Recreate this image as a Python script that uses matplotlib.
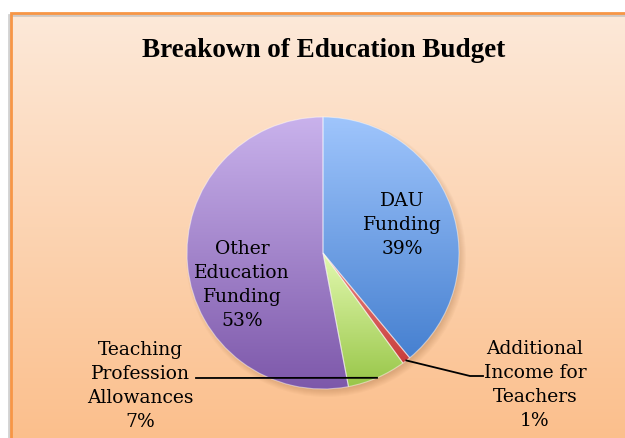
import numpy as np
import matplotlib
matplotlib.use('Agg')
import matplotlib.pyplot as plt
from matplotlib.colors import LinearSegmentedColormap
from matplotlib.patches import Rectangle, Circle

# budget shares (percent)
labels = ['DAU\nFunding', 'Additional\nIncome for\nTeachers',
          'Teaching\nProfession\nAllowances', 'Other\nEducation\nFunding']
shares = [39, 1, 7, 53]
# light (top) -> dark (bottom) fill for each slice
tops = ['#9fc5fc', '#ec8a86', '#e3f9b0', '#c9b2ec']
bottoms = ['#4680d0', '#c83c3a', '#98c648', '#7d58aa']

W, H = 625, 439
fig = plt.figure(figsize=(W / 100, H / 100), dpi=100)
ax = fig.add_axes([0, 0, 1, 1])
ax.set_xlim(0, W)
ax.set_ylim(0, H)
ax.set_aspect('equal')
ax.axis('off')

# chart area: white page, peach gradient panel with orange border
fig.patch.set_facecolor('white')
x0, y_top = 11, H - 14
bg = LinearSegmentedColormap.from_list('bg', ['#fbbf8c', '#fde9d9'])
grad = np.linspace(0, 1, 256).reshape(-1, 1)
ax.imshow(grad, cmap=bg, origin='lower', extent=(x0, W + 2, -2, y_top),
          aspect='auto', zorder=0)
ax.add_patch(Rectangle((x0 - 2.5, -4), W, y_top + 2, fill=False,
                       ec='#b4b4b4', lw=2, alpha=0.6, zorder=1))
ax.add_patch(Rectangle((x0, -4), W, y_top + 4, fill=False,
                       ec='#f79646', lw=2, zorder=1))

ax.text(324, H - 50, 'Breakown of Education Budget', ha='center', va='center',
        fontsize=19.5, fontweight='bold', family='Liberation Serif', zorder=5)

cx, cy, r = 323, H - 254, 136

# soft drop shadow below the pie
for k in range(8):
    ax.add_patch(Circle((cx + 3, cy - 4), r + 4 - k, fc='#8a5a30',
                        ec='none', alpha=0.035, zorder=1.5))

wedges, _ = ax.pie(shares, center=(cx, cy), radius=r, startangle=90,
                   counterclock=False, frame=True,
                   wedgeprops=dict(fc='none', ec=(1, 1, 1, 0.45), lw=0.8))
ax.set_xlim(0, W)
ax.set_ylim(0, H)
ax.axis('off')

for w, c1, c2 in zip(wedges, tops, bottoms):
    w.set_zorder(3)
    bb = w.get_path().get_extents()
    cm = LinearSegmentedColormap.from_list('s', [c2, c1])
    im = ax.imshow(grad, cmap=cm, origin='lower', aspect='auto',
                   extent=(bb.x0, bb.x1, bb.y0, bb.y1), zorder=2)
    im.set_clip_path(w)


def rim(w):
    a = np.deg2rad((w.theta1 + w.theta2) / 2)
    return cx + r * np.cos(a), cy + r * np.sin(a)


txt = dict(ha='center', va='center', fontsize=13.5, family='DejaVu Serif',
           linespacing=1.45, zorder=5)
pct = ['%d%%' % s for s in shares]

# inside labels
ax.text(402, H - 225, labels[0] + '\n' + pct[0], **txt)
ax.text(242, H - 285, labels[3] + '\n' + pct[3], **txt)

# outside labels with leader lines
ax.text(535, H - 385, labels[1] + '\n' + pct[1], **txt)
px, py = rim(wedges[1])
ax.plot([px, 470, 483], [py, H - 377, H - 377], color='black', lw=1.3, zorder=4)

ax.text(140, H - 386, labels[2] + '\n' + pct[2], **txt)
px, py = rim(wedges[2])
ax.plot([196, px], [H - 379, py], color='black', lw=1.3, zorder=4)

fig.savefig('out.png', dpi=100)
